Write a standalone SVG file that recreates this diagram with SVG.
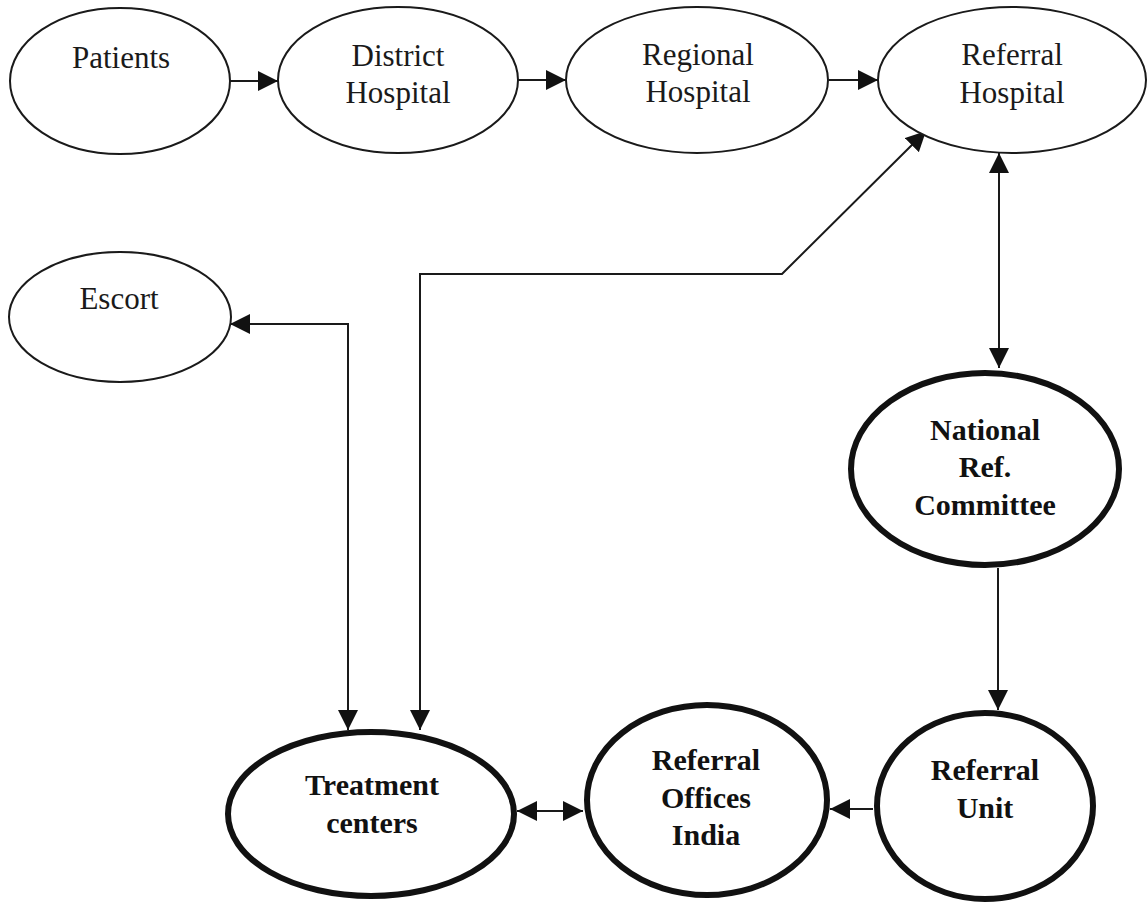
<svg xmlns="http://www.w3.org/2000/svg" width="1148" height="904" viewBox="0 0 1148 904">
<style>
.thin{fill:#fff;stroke:#1a1a1a;stroke-width:2}
.thick{fill:#fff;stroke:#111;stroke-width:6}
.lbl{font-family:"Liberation Serif","Times New Roman",serif;font-size:31px;fill:#1a1a1a;text-anchor:middle}
.blbl{font-family:"Liberation Serif","Times New Roman",serif;font-size:30px;font-weight:bold;fill:#111;text-anchor:middle}
.conn{fill:none;stroke:#1a1a1a;stroke-width:2}
</style>
<defs>
<marker id="arr" viewBox="0 0 20 20" refX="20" refY="10" markerWidth="20" markerHeight="20" markerUnits="userSpaceOnUse" orient="auto-start-reverse">
<path d="M0,0 L20,10 L0,20 z" fill="#111"/>
</marker>
</defs>
<rect width="1148" height="904" fill="#fff"/>
<g id="connectors">
<path class="conn" d="M230,81 H278" marker-end="url(#arr)"/>
<path class="conn" d="M518,80 H566" marker-end="url(#arr)"/>
<path class="conn" d="M829,80 H878" marker-end="url(#arr)"/>
<path class="conn" d="M999,153 V368" marker-start="url(#arr)" marker-end="url(#arr)"/>
<path class="conn" d="M998,568 V710" marker-end="url(#arr)"/>
<path class="conn" d="M873,809 H830" marker-end="url(#arr)"/>
<path class="conn" d="M517,811 H583" marker-start="url(#arr)" marker-end="url(#arr)"/>
<path class="conn" d="M230,324 H348 V730" marker-start="url(#arr)" marker-end="url(#arr)"/>
<path class="conn" d="M420,730 V274 H782 L926,131" marker-start="url(#arr)" marker-end="url(#arr)"/>
</g>
<g id="patients">
<ellipse class="thin" cx="120" cy="81" rx="110" ry="73"/>
<text class="lbl" x="121" y="68">Patients</text>
</g>
<g id="district-hospital">
<ellipse class="thin" cx="398" cy="80" rx="120" ry="73"/>
<text class="lbl" x="398" y="66">District</text>
<text class="lbl" x="398" y="103">Hospital</text>
</g>
<g id="regional-hospital">
<ellipse class="thin" cx="697" cy="80" rx="131" ry="73"/>
<text class="lbl" x="698" y="65">Regional</text>
<text class="lbl" x="698" y="102">Hospital</text>
</g>
<g id="referral-hospital">
<ellipse class="thin" cx="1012" cy="80" rx="134" ry="73"/>
<text class="lbl" x="1012" y="65">Referral</text>
<text class="lbl" x="1012" y="103">Hospital</text>
</g>
<g id="escort">
<ellipse class="thin" cx="120" cy="317" rx="111" ry="65"/>
<text class="lbl" x="119" y="309">Escort</text>
</g>
<g id="national-ref-committee">
<ellipse class="thick" cx="985" cy="469" rx="134" ry="96"/>
<text class="blbl" x="985" y="440">National</text>
<text class="blbl" x="985" y="477">Ref.</text>
<text class="blbl" x="985" y="515">Committee</text>
</g>
<g id="treatment-centers">
<ellipse class="thick" cx="371" cy="814" rx="143" ry="82"/>
<text class="blbl" x="372" y="795">Treatment</text>
<text class="blbl" x="372" y="833">centers</text>
</g>
<g id="referral-offices-india">
<ellipse class="thick" cx="707" cy="800" rx="120" ry="95"/>
<text class="blbl" x="706" y="770">Referral</text>
<text class="blbl" x="706" y="808">Offices</text>
<text class="blbl" x="706" y="845">India</text>
</g>
<g id="referral-unit">
<ellipse class="thick" cx="985" cy="806" rx="108" ry="93"/>
<text class="blbl" x="985" y="780">Referral</text>
<text class="blbl" x="985" y="818">Unit</text>
</g>
</svg>
